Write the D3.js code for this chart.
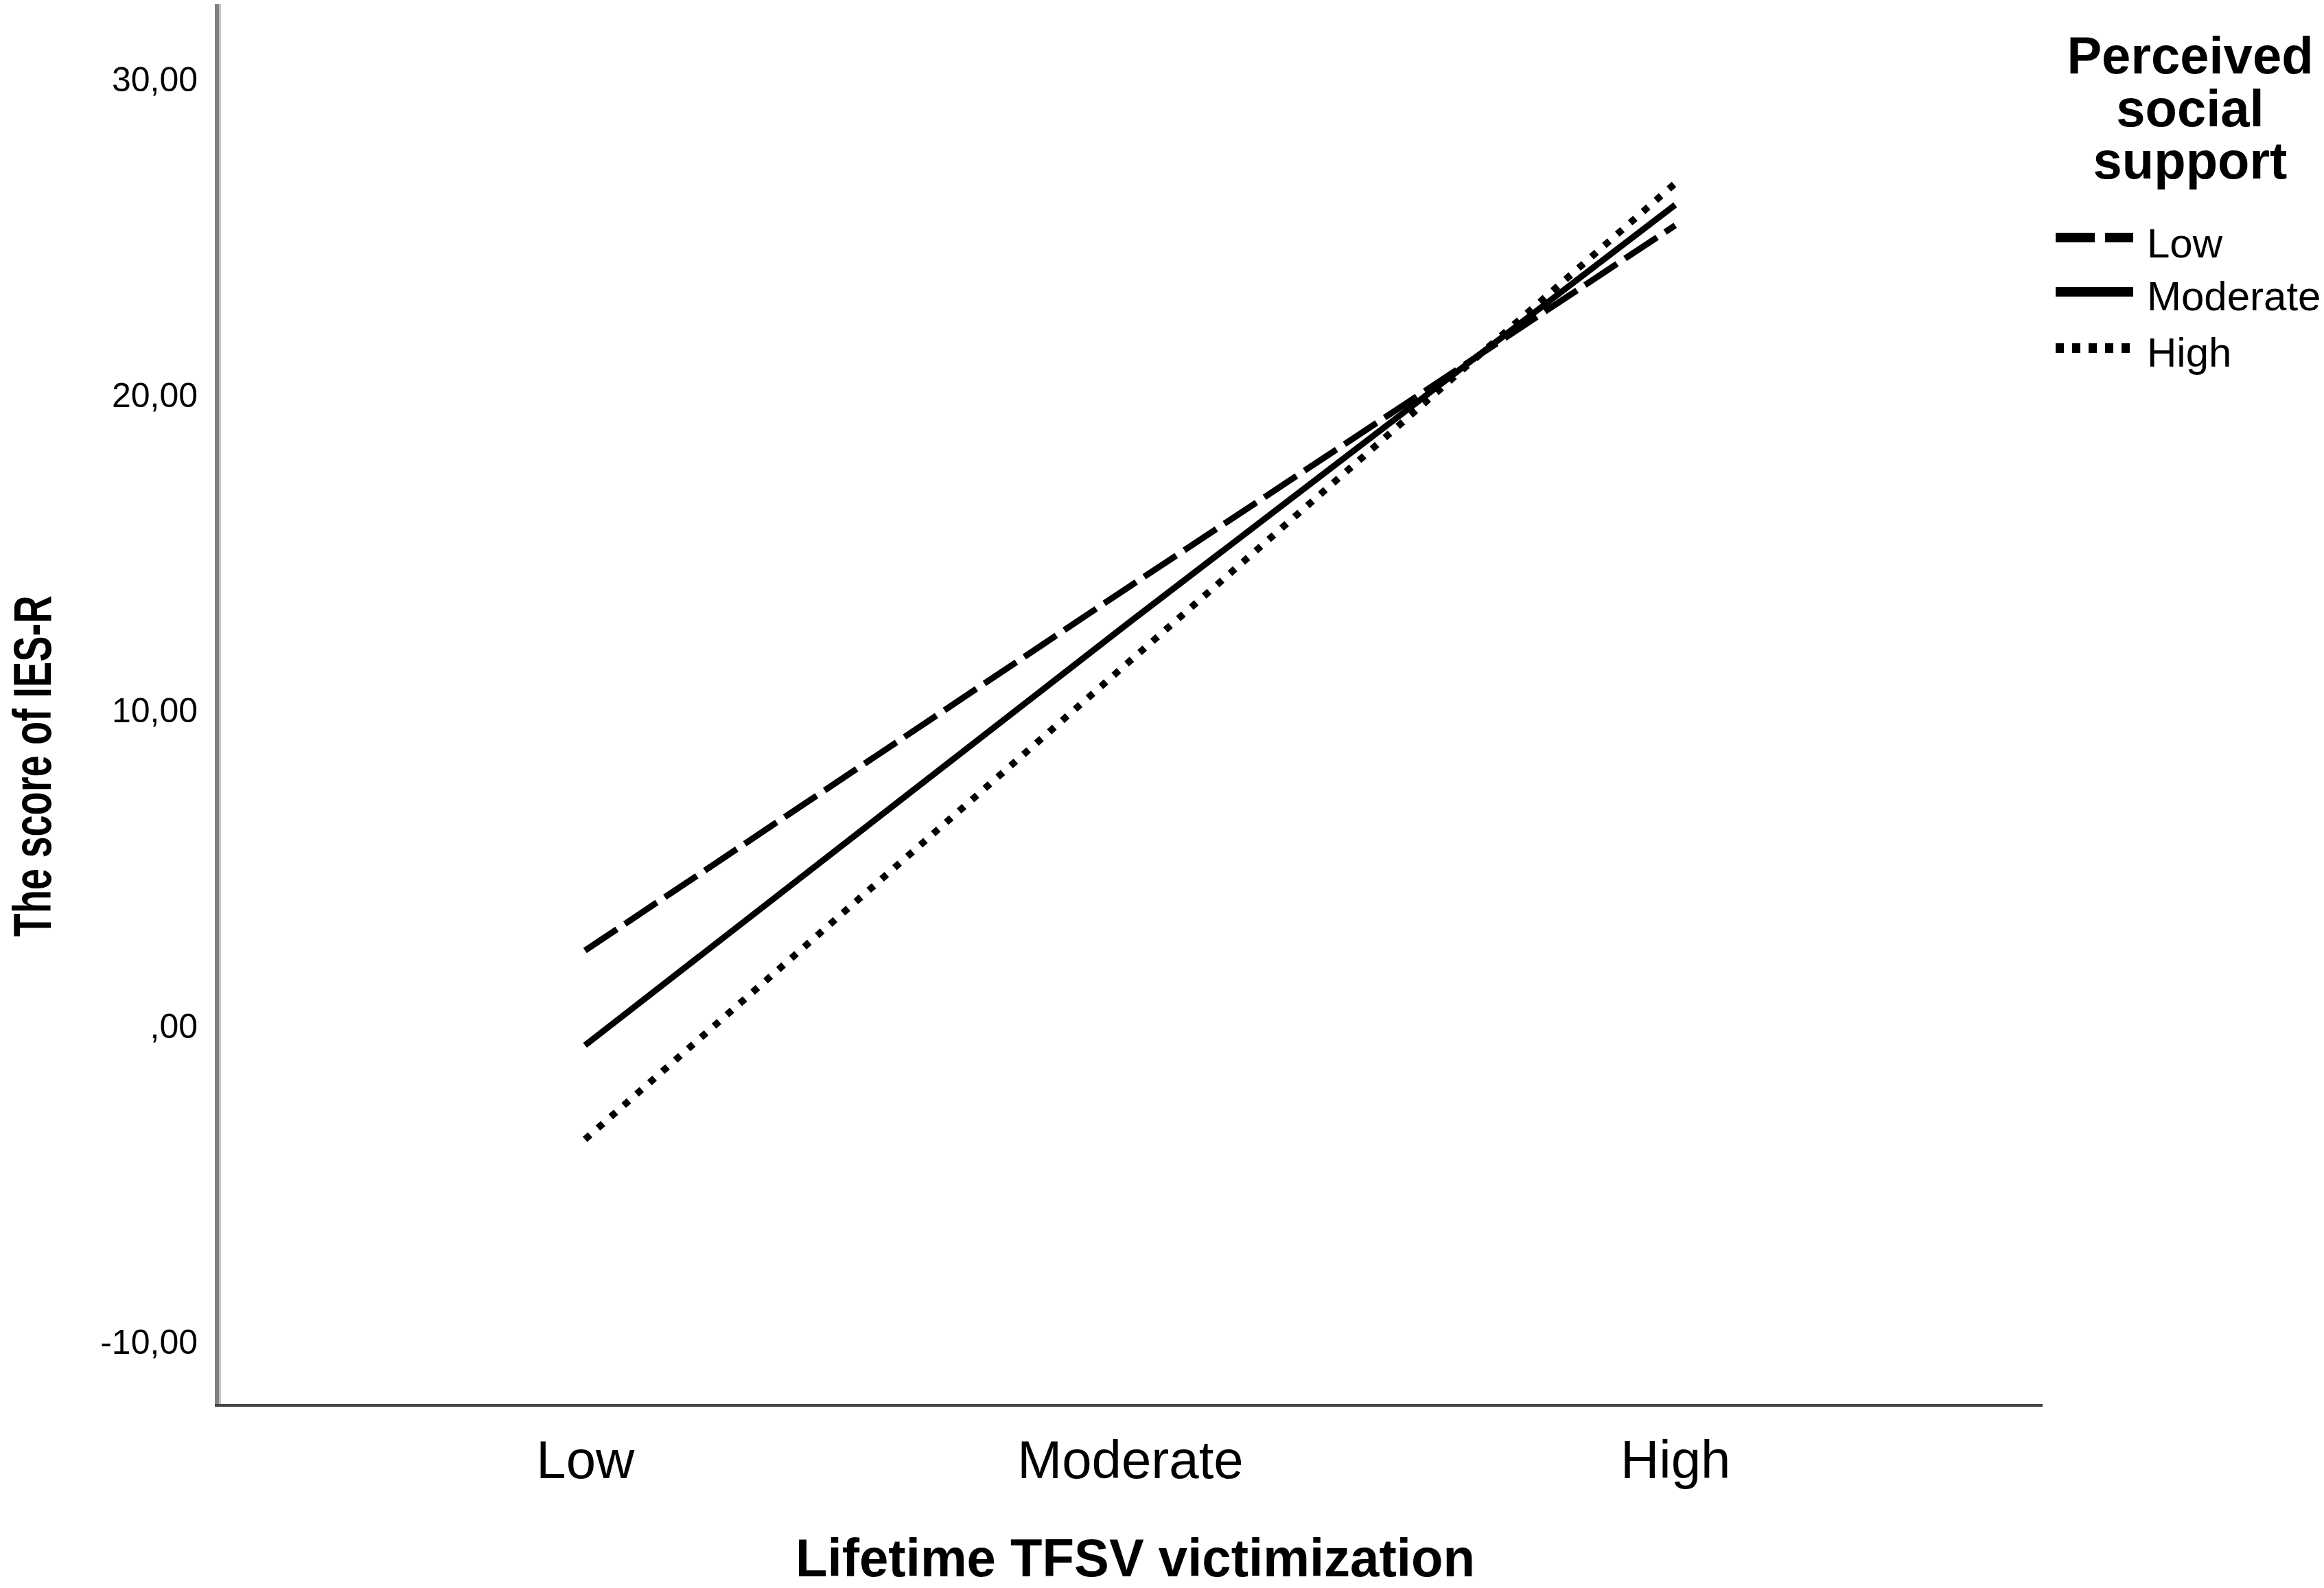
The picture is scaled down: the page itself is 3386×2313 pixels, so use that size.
<!DOCTYPE html>
<html>
<head>
<meta charset="utf-8">
<script src="https://cdn.jsdelivr.net/npm/d3@7"></script>
<style>
  html, body { margin: 0; padding: 0; background: #fff; }
  svg { display: block; }
  text { font-family: "Liberation Sans", Arial, Helvetica, sans-serif; fill: #000; }
</style>
</head>
<body>
<svg id="chart" width="3386" height="2313"></svg>
<script>
// ---- data ----
const categories = ["Low", "Moderate", "High"];
const seriesNames = ["Low", "Moderate", "High"];
const lowSupport = [2.41, 13.96, 25.39];
const moderateSupport = [-0.59, 12.83, 26.04];
const highSupport = [-3.57, 11.59, 26.72];
const yTicks = [-10, 0, 10, 20, 30];
const yTickLabels = ["-10,00", ",00", "10,00", "20,00", "30,00"];
const xTitle = "Lifetime TFSV victimization";
const yTitle = "The score of IES-R";
const legendTitle = ["Perceived", "social", "support"];

// ---- layout ----
const W = 3386, H = 2313;
const plot = { left: 317, right: 2976, top: 6, bottom: 2047 };
const svg = d3.select("#chart");

const x = d3.scalePoint().domain(categories).range([plot.left, plot.right]).padding(0.674);
const y = d3.scaleLinear().domain([-12, 32.4]).range([plot.bottom, plot.top]);

const series = [
  { name: seriesNames[0], values: lowSupport, dash: "56,14", width: 9 },
  { name: seriesNames[1], values: moderateSupport, dash: null, width: 9 },
  { name: seriesNames[2], values: highSupport, dash: "10,15", width: 10 }
];

// axes lines
svg.append("line").attr("x1", 316).attr("x2", 316).attr("y1", plot.top).attr("y2", plot.bottom + 2)
  .attr("stroke", "#808080").attr("stroke-width", 6);
svg.append("line").attr("x1", 320.5).attr("x2", 320.5).attr("y1", plot.top).attr("y2", plot.bottom)
  .attr("stroke", "#c4c4c4").attr("stroke-width", 3);
svg.append("line").attr("x1", 313).attr("x2", plot.right).attr("y1", plot.bottom).attr("y2", plot.bottom)
  .attr("stroke", "#444").attr("stroke-width", 4);

// y axis tick labels
const yAxis = d3.axisLeft(y).tickValues(yTicks).tickSize(0).tickPadding(29)
  .tickFormat((d, i) => yTickLabels[i]);
const gy = svg.append("g").attr("transform", `translate(${plot.left},0)`).call(yAxis);
gy.select(".domain").remove();
gy.selectAll("text").attr("font-size", 50).attr("fill", "#111")
  .style("font-family", '"Liberation Sans", Arial, sans-serif');

// x axis labels
const xAxis = d3.axisBottom(x).tickSize(0).tickPadding(0);
const gx = svg.append("g").attr("transform", `translate(0,${plot.bottom})`).call(xAxis);
gx.select(".domain").remove();
gx.selectAll("text").attr("font-size", 78).attr("dy", null).attr("y", 106)
  .attr("fill", "#000").style("font-family", '"Liberation Sans", Arial, sans-serif');

// lines
const line = d3.line().x((d, i) => x(categories[i])).y(d => y(d));
svg.append("g").selectAll("path").data(series).join("path")
  .attr("d", d => line(d.values))
  .attr("fill", "none")
  .attr("stroke", "#000")
  .attr("stroke-width", d => d.width)
  .attr("stroke-linecap", "butt")
  .attr("stroke-dasharray", d => d.dash);

// axis titles
svg.append("text").attr("x", 1654).attr("y", 2296).attr("text-anchor", "middle")
  .attr("font-size", 78).attr("font-weight", "bold")
  .attr("textLength", 990).attr("lengthAdjust", "spacingAndGlyphs")
  .text(xTitle);
svg.append("text").attr("transform", "translate(74,1116) rotate(-90)").attr("text-anchor", "middle")
  .attr("font-size", 78).attr("font-weight", "bold")
  .attr("textLength", 497).attr("lengthAdjust", "spacingAndGlyphs")
  .text(yTitle);

// legend
const lg = svg.append("g");
const titleBase = [107, 184, 260];
lg.selectAll("text.lt").data(legendTitle).join("text").attr("class", "lt")
  .attr("x", 3191).attr("y", (d, i) => titleBase[i]).attr("text-anchor", "middle")
  .attr("font-size", 76).attr("font-weight", "bold")
  .text(d => d);

const legendY = [346, 425, 507];
const legendBase = [375, 452, 534];
const legendDash = ["57,15", null, "12,12"];
series.forEach((s, i) => {
  lg.append("line").attr("x1", 2995).attr("x2", 3108)
    .attr("y1", legendY[i]).attr("y2", legendY[i])
    .attr("stroke", "#000").attr("stroke-width", 14)
    .attr("stroke-dasharray", legendDash[i]);
  lg.append("text").attr("x", 3128).attr("y", legendBase[i])
    .attr("font-size", 60).text(s.name);
});
</script>
</body>
</html>
